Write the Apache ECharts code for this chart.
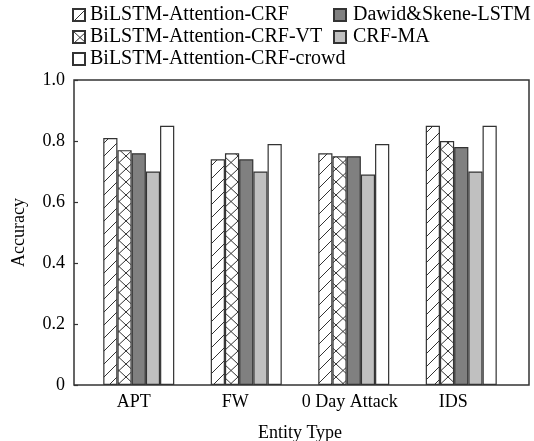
<!DOCTYPE html>
<html>
<head>
<meta charset="utf-8">
<script src="https://cdn.jsdelivr.net/npm/echarts@6/dist/echarts.min.js"></script>
<style>
  html, body { margin: 0; padding: 0; background: #fff; }
  #chart { width: 534px; height: 441px; }
</style>
</head>
<body>
<div id="chart"></div>
<script>
// data
var categories = ['APT', 'FW', '0 Day Attack', 'IDS'];
var labelShift = [10, 22, 8, 16]; // right padding to nudge the labels left
var seriesNames = [
  'BiLSTM-Attention-CRF',
  'BiLSTM-Attention-CRF-VT',
  'Dawid&Skene-LSTM',
  'CRF-MA',
  'BiLSTM-Attention-CRF-crowd'
];
var crfValues = [0.81, 0.74, 0.76, 0.85];
var crfVtValues = [0.77, 0.76, 0.75, 0.80];
var dsLstmValues = [0.76, 0.74, 0.75, 0.78];
var crfMaValues = [0.70, 0.70, 0.69, 0.70];
var crowdValues = [0.85, 0.79, 0.79, 0.85];
var yTicks = [0, 0.2, 0.4, 0.6, 0.8, 1.0];

var FONT = 'Liberation Serif';
var EDGE = '#333';

// hatch patterns
function makePattern(w, h, cross) {
  var c = document.createElement('canvas');
  c.width = w; c.height = h;
  var ctx = c.getContext('2d');
  ctx.fillStyle = '#fff';
  ctx.fillRect(0, 0, w, h);
  ctx.strokeStyle = '#333';
  ctx.lineWidth = 1;
  ctx.beginPath();
  ctx.moveTo(0, h); ctx.lineTo(w, 0);
  if (cross) { ctx.moveTo(0, 0); ctx.lineTo(w, h); }
  ctx.stroke();
  return { image: c, repeat: 'repeat' };
}
var slash = makePattern(13, 13, false);
var cross = makePattern(14, 13, true);

var fills = [slash, cross, '#808080', '#c0c0c0', '#ffffff'];
var values = [crfValues, crfVtValues, dsLstmValues, crfMaValues, crowdValues];

var myChart = echarts.init(document.getElementById('chart'));

var series = seriesNames.map(function (name, i) {
  return {
    name: name,
    type: 'bar',
    xAxisIndex: 1,
    yAxisIndex: 1,
    barWidth: 14.2,
    barGap: '0%',
    data: values[i],
    itemStyle: { color: fills[i], borderColor: EDGE, borderWidth: 1.2 },
    emphasis: { disabled: true }
  };
});

myChart.setOption({
  animation: false,
  backgroundColor: '#fff',
  textStyle: { fontFamily: FONT, color: '#000' },
  legend: [
    {
      orient: 'vertical',
      left: 67, top: 0,
      icon: 'rect',
      itemWidth: 12, itemHeight: 12, itemGap: 2,
      textStyle: { fontFamily: FONT, fontSize: 20, color: '#000' },
      data: [seriesNames[0], seriesNames[1], seriesNames[4]]
    },
    {
      orient: 'vertical',
      left: 328, top: 0,
      icon: 'rect',
      itemWidth: 12, itemHeight: 12, itemGap: 2,
      textStyle: { fontFamily: FONT, fontSize: 20, color: '#000', padding: [0, 0, 0, 2] },
      data: [seriesNames[2], seriesNames[3]]
    }
  ],
  grid: [
    { left: 74, right: 5, top: 80, bottom: 56, outerBoundsMode: 'none', containLabel: false,
      show: true, borderColor: EDGE, borderWidth: 1.5, backgroundColor: 'transparent' },
    { left: 85, right: 19, top: 80, bottom: 56, outerBoundsMode: 'none', containLabel: false }
  ],
  xAxis: [
    { gridIndex: 0, type: 'category', data: categories, show: false },
    {
      gridIndex: 1,
      type: 'category',
      data: categories.map(function (c, i) {
        return { value: c, textStyle: { padding: [0, labelShift[i], 0, 0] } };
      }),
      axisLine: { show: false },
      axisTick: { show: false },
      axisLabel: { interval: 0, fontFamily: FONT, fontSize: 18, color: '#000', margin: 8 },
      name: 'Entity Type',
      nameLocation: 'middle',
      nameGap: 39,
      nameTextStyle: { fontFamily: FONT, fontSize: 18, color: '#000' }
    }
  ],
  yAxis: [
    {
      gridIndex: 0,
      type: 'value',
      min: 0, max: 1, interval: 0.2,
      axisLine: { show: false },
      axisTick: { show: true, inside: true, length: 4, lineStyle: { color: EDGE, width: 1.2 } },
      splitLine: { show: false },
      axisLabel: {
        fontFamily: FONT, fontSize: 18, color: '#000', margin: 9,
        formatter: function (v) {
          return yTicks.indexOf(v) === 0 ? '0' : v.toFixed(1);
        }
      },
      name: 'Accuracy',
      nameLocation: 'middle',
      nameGap: 46,
      nameTextStyle: { fontFamily: FONT, fontSize: 18, color: '#000' }
    },
    { gridIndex: 1, type: 'value', min: 0, max: 1, show: false }
  ],
  series: series
});
</script>
</body>
</html>
